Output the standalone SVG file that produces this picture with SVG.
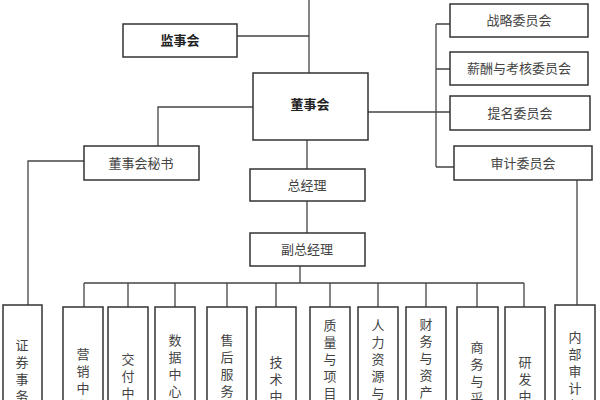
<svg xmlns="http://www.w3.org/2000/svg" width="600" height="400" viewBox="0 0 600 400">
<style>
.b{fill:#fff;stroke:#333;stroke-width:1.5}
.l{fill:none;stroke:#444;stroke-width:1.3}
text{font-family:"Liberation Serif","Noto Sans CJK SC",serif;font-size:13px;fill:#444;text-anchor:middle}
.bd{font-weight:bold;fill:#222}
</style>
<rect width="600" height="400" fill="#fff"/>
<g id="connectors">
<path class="l" d="M309 0V73M237 36H309M253 107H158V146M368 112H436M436 24V167M436 24H450M436 69H450M436 112H450M436 167H454M307 140V169M307 201V233M300 266V283M84 161H28V305M577 180V305"/>
<path class="l" d="M84 283H524M84 283V307M128 283V307M175 283V307M227 283V307M276 283V307M330 283V307M378 283V307M426 283V307M477 283V307M524 283V307"/>
</g>
<g id="jianshihui"><rect class="b" x="123" y="24" width="114" height="33"/><text class="bd" x="180" y="45">监事会</text></g>
<g id="dongshihui"><rect class="b" x="253" y="73" width="115" height="67"/><text class="bd" x="310" y="109">董事会</text></g>
<g id="zhanlue"><rect class="b" x="450" y="4" width="138" height="33"/><text x="519" y="25">战略委员会</text></g>
<g id="xinchou"><rect class="b" x="450" y="52" width="138" height="33"/><text x="519" y="73">薪酬与考核委员会</text></g>
<g id="timing"><rect class="b" x="450" y="96" width="140" height="34"/><text x="520" y="118">提名委员会</text></g>
<g id="shenji"><rect class="b" x="454" y="146" width="138" height="34"/><text x="523" y="168">审计委员会</text></g>
<g id="mishu"><rect class="b" x="84" y="146" width="115" height="34"/><text x="141" y="168">董事会秘书</text></g>
<g id="zongjingli"><rect class="b" x="250" y="169" width="115" height="32"/><text x="307" y="190">总经理</text></g>
<g id="fuzong"><rect class="b" x="250" y="233" width="115" height="33"/><text x="307" y="254">副总经理</text></g>
<g id="zhengquan"><rect class="b" x="3" y="305" width="39" height="110"/><text x="22" y="350"><tspan x="22">证</tspan><tspan x="22" dy="17">券</tspan><tspan x="22" dy="17">事</tspan><tspan x="22" dy="17">务</tspan><tspan x="22" dy="17">部</tspan></text></g>
<g id="yingxiao"><rect class="b" x="63" y="307" width="40" height="110"/><text x="83" y="359"><tspan x="83">营</tspan><tspan x="83" dy="17">销</tspan><tspan x="83" dy="17">中</tspan><tspan x="83" dy="17">心</tspan></text></g>
<g id="jiaofu"><rect class="b" x="108" y="307" width="40" height="110"/><text x="128" y="364"><tspan x="128">交</tspan><tspan x="128" dy="17">付</tspan><tspan x="128" dy="17">中</tspan><tspan x="128" dy="17">心</tspan></text></g>
<g id="shuju"><rect class="b" x="155" y="307" width="40" height="110"/><text x="175" y="345"><tspan x="175">数</tspan><tspan x="175" dy="17">据</tspan><tspan x="175" dy="17">中</tspan><tspan x="175" dy="17">心</tspan><tspan x="175" dy="17">事</tspan><tspan x="175" dy="17">业</tspan><tspan x="175" dy="17">部</tspan></text></g>
<g id="shouhou"><rect class="b" x="207" y="307" width="40" height="110"/><text x="227" y="345"><tspan x="227">售</tspan><tspan x="227" dy="17">后</tspan><tspan x="227" dy="17">服</tspan><tspan x="227" dy="17">务</tspan><tspan x="227" dy="17">事</tspan><tspan x="227" dy="17">业</tspan><tspan x="227" dy="17">部</tspan></text></g>
<g id="jishu"><rect class="b" x="256" y="307" width="40" height="110"/><text x="276" y="367"><tspan x="276">技</tspan><tspan x="276" dy="17">术</tspan><tspan x="276" dy="17">中</tspan><tspan x="276" dy="17">心</tspan></text></g>
<g id="zhiliang"><rect class="b" x="310" y="307" width="40" height="110"/><text x="330" y="330"><tspan x="330">质</tspan><tspan x="330" dy="17">量</tspan><tspan x="330" dy="17">与</tspan><tspan x="330" dy="17">项</tspan><tspan x="330" dy="17">目</tspan><tspan x="330" dy="17">管</tspan><tspan x="330" dy="17">理</tspan><tspan x="330" dy="17">部</tspan></text></g>
<g id="renli"><rect class="b" x="358" y="307" width="40" height="110"/><text x="378" y="330"><tspan x="378">人</tspan><tspan x="378" dy="17">力</tspan><tspan x="378" dy="17">资</tspan><tspan x="378" dy="17">源</tspan><tspan x="378" dy="17">与</tspan><tspan x="378" dy="17">行</tspan><tspan x="378" dy="17">政</tspan><tspan x="378" dy="17">部</tspan></text></g>
<g id="caiwu"><rect class="b" x="406" y="307" width="40" height="110"/><text x="426" y="329"><tspan x="426">财</tspan><tspan x="426" dy="17">务</tspan><tspan x="426" dy="17">与</tspan><tspan x="426" dy="17">资</tspan><tspan x="426" dy="17">产</tspan><tspan x="426" dy="17">管</tspan><tspan x="426" dy="17">理</tspan><tspan x="426" dy="17">部</tspan></text></g>
<g id="shangwu"><rect class="b" x="457" y="307" width="41" height="110"/><text x="477" y="352"><tspan x="477">商</tspan><tspan x="477" dy="17">务</tspan><tspan x="477" dy="17">与</tspan><tspan x="477" dy="17">采</tspan><tspan x="477" dy="17">购</tspan><tspan x="477" dy="17">部</tspan></text></g>
<g id="yanfa"><rect class="b" x="505" y="307" width="40" height="110"/><text x="525" y="367"><tspan x="525">研</tspan><tspan x="525" dy="17">发</tspan><tspan x="525" dy="17">中</tspan><tspan x="525" dy="17">心</tspan></text></g>
<g id="neibu"><rect class="b" x="555" y="305" width="40" height="110"/><text x="575" y="342"><tspan x="575">内</tspan><tspan x="575" dy="17">部</tspan><tspan x="575" dy="17">审</tspan><tspan x="575" dy="17">计</tspan><tspan x="575" dy="17">部</tspan></text></g>
</svg>
